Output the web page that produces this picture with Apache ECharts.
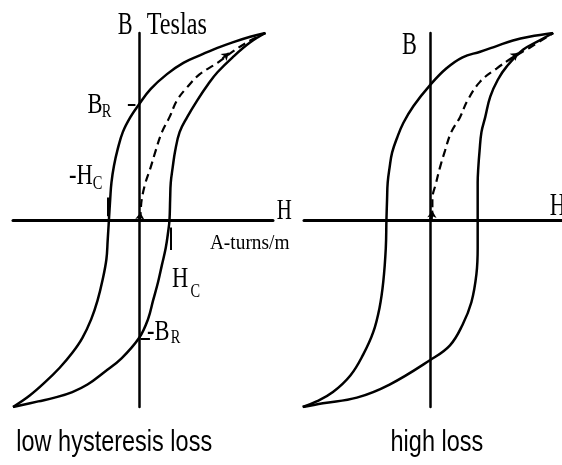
<!doctype html>
<html>
<head>
<meta charset="utf-8">
<title>Hysteresis loops</title>
<script src="https://cdn.jsdelivr.net/npm/echarts@6/dist/echarts.min.js"></script>
<style>
  html, body { margin: 0; background: #fff; }
  #chart { width: 562px; height: 465px; }
</style>
</head>
<body>
<div id="chart"></div>
<script>
// low hysteresis loss loop (left), H and B in arbitrary units
const lowDown = [[100,100],[88,98],[74,95],[62,92],[48,88],[35,84],[22,78],[9,70],[0,62],[-7,55],[-13,47],[-17,38],[-20,29],[-22,20],[-23,11],[-24,0],[-25,-11],[-26,-21],[-29,-32],[-33,-43],[-38,-53],[-45,-63],[-53,-71],[-63,-79],[-75,-87],[-87,-94],[-100,-100]];
const lowUp = [[-100,-100],[-80,-97],[-67,-95],[-53,-92],[-41,-88],[-27,-81],[-14,-74],[0,-63],[7,-53],[11,-43],[15,-33],[18,-24],[21,-15],[23,-6],[24,0],[24.5,11],[25,20],[26.5,28],[28.5,37],[32,47],[38,55],[46,64],[55,73],[62,79],[74,87],[88,95],[100,100]];
const lowInit = [[0,0],[1,4],[2,11],[5,20],[9,28],[13,37],[18,47],[24,55],[30,64],[38,71],[48,78],[62,84],[74,90],[88,96],[100,100]];

// high loss loop (right)
const highDown = [[98,100],[79,98],[66,96],[53,93],[40,90],[26,87],[13,81],[0,72],[-13,61],[-21,52],[-26,44],[-30,36],[-32,28],[-33.5,20],[-34,11],[-34.5,0],[-35,-15],[-37,-33],[-40,-47],[-45,-60],[-53,-72],[-63,-83],[-77,-92],[-90,-97],[-101,-100]];
const highUp = [[-101,-100],[-85,-98],[-58,-95],[-32,-88],[0,-75],[16,-67],[26,-56],[33,-44],[37,-29],[38,-15],[38,0],[38,11],[38,20],[38.5,28],[39.5,37],[41,47],[44,55],[48,66],[54,75],[61,82],[74,91],[87,96],[98,100]];
const highInit = [[0,0],[2,5],[2,11],[5,20],[8,28],[12,37],[17,47],[24,55],[30,64],[40,74],[53,81],[66,87],[79,92],[98,100]];

// short marks at B_R, -H_C, H_C, -B_R
const lowTicks = [[[-9,61.5],[-3,61.5]], [[-25,12],[-25,2]], [[25,-4],[25,-16]], [[1,-63.5],[8.5,-63.5]]];
// direction arrows on the initial curves
const lowArrows = [[[66,86.5],[71,89.3]], [[0.5,0],[1,4]]];
const highArrows = [[[64,86],[70,89.3]], [[1.5,0],[2,5]]];

// labels: [grid, x, y, text, size, font, scaleX, align]
const labels = [
  [0, -17, 104, 'B', 31, 'serif', 0.72, 'left'],
  [0, 6, 104, 'Teslas', 31, 'serif', 0.78, 'left'],
  [0, -41, 61.5, 'B', 30, 'serif', 0.75, 'left'],
  [0, -29.6, 57.5, 'R', 18, 'serif', 0.8, 'left'],
  [0, -55.6, 23.5, '-H', 30, 'serif', 0.75, 'left'],
  [0, -36.9, 19, 'C', 18, 'serif', 0.8, 'left'],
  [0, 109, 4.8, 'H', 29, 'serif', 0.72, 'left'],
  [0, 56, -12.3, 'A-turns/m', 22, 'serif', 0.88, 'left'],
  [0, 26, -31.6, 'H', 30, 'serif', 0.75, 'left'],
  [0, 40.6, -38.5, 'C', 18, 'serif', 0.8, 'left'],
  [0, 6.2, -59.9, '-B', 30, 'serif', 0.75, 'left'],
  [0, 25, -63.5, 'R', 18, 'serif', 0.8, 'left'],
  [0, -19.8, -119.3, 'low hysteresis loss', 29, 'sans', 0.81, 'center'],
  [1, -22.2, 93, 'B', 31, 'serif', 0.72, 'left'],
  [1, 95.2, 7, 'H', 31, 'serif', 0.72, 'left'],
  [1, 5.6, -119.3, 'high loss', 29, 'sans', 0.81, 'center']
];

const fonts = { serif: '"Liberation Serif", "DejaVu Serif", serif', sans: '"Liberation Sans", Arial, sans-serif' };

function curve(idx, data, dashed) {
  return {
    type: 'line', xAxisIndex: idx, yAxisIndex: idx, data: data,
    showSymbol: false, smooth: 0.4, silent: true,
    lineStyle: { color: '#000', width: dashed ? 2.2 : 2.5, type: dashed ? [8, 5] : 'solid' }
  };
}
function segs(idx, list, arrow) {
  return {
    type: 'lines', coordinateSystem: 'cartesian2d', xAxisIndex: idx, yAxisIndex: idx, silent: true,
    symbol: arrow ? ['none', 'arrow'] : 'none', symbolSize: 7,
    lineStyle: { color: '#000', width: 2, opacity: 1, curveness: 0 },
    data: list.map(c => ({ coords: c }))
  };
}
function axis(isX, idx, max) {
  return {
    type: 'value', gridIndex: idx, min: -100, max: max,
    axisLine: { show: true, onZero: true, lineStyle: { color: '#000', width: isX ? 3 : 2.5 } },
    axisTick: { show: false }, axisLabel: { show: false }, splitLine: { show: false }
  };
}

const chart = echarts.init(document.getElementById('chart'));
chart.setOption({
  animation: false,
  backgroundColor: '#fff',
  grid: [
    { left: 13, top: 33, width: 260, height: 374 },
    { left: 304, top: 33, width: 258, height: 374 }
  ],
  xAxis: [axis(true, 0, 106), axis(true, 1, 105)],
  yAxis: [axis(false, 0, 100), axis(false, 1, 100)],
  series: [
    curve(0, lowDown), curve(0, lowUp), curve(0, lowInit, true),
    curve(1, highDown), curve(1, highUp), curve(1, highInit, true),
    segs(0, lowTicks, false), segs(0, lowArrows, true), segs(1, highArrows, true)
  ]
});

// place text labels from data coordinates
chart.setOption({
  graphic: labels.map(l => {
    const p = chart.convertToPixel({ gridIndex: l[0] }, [l[1], l[2]]);
    return {
      type: 'text', x: p[0], y: p[1], scaleX: l[6], silent: true,
      style: {
        text: l[3], fill: '#000',
        font: l[4] + 'px ' + fonts[l[5]],
        align: l[7], verticalAlign: 'middle',
        textAlign: l[7], textVerticalAlign: 'middle'
      }
    };
  })
});
</script>
</body>
</html>
